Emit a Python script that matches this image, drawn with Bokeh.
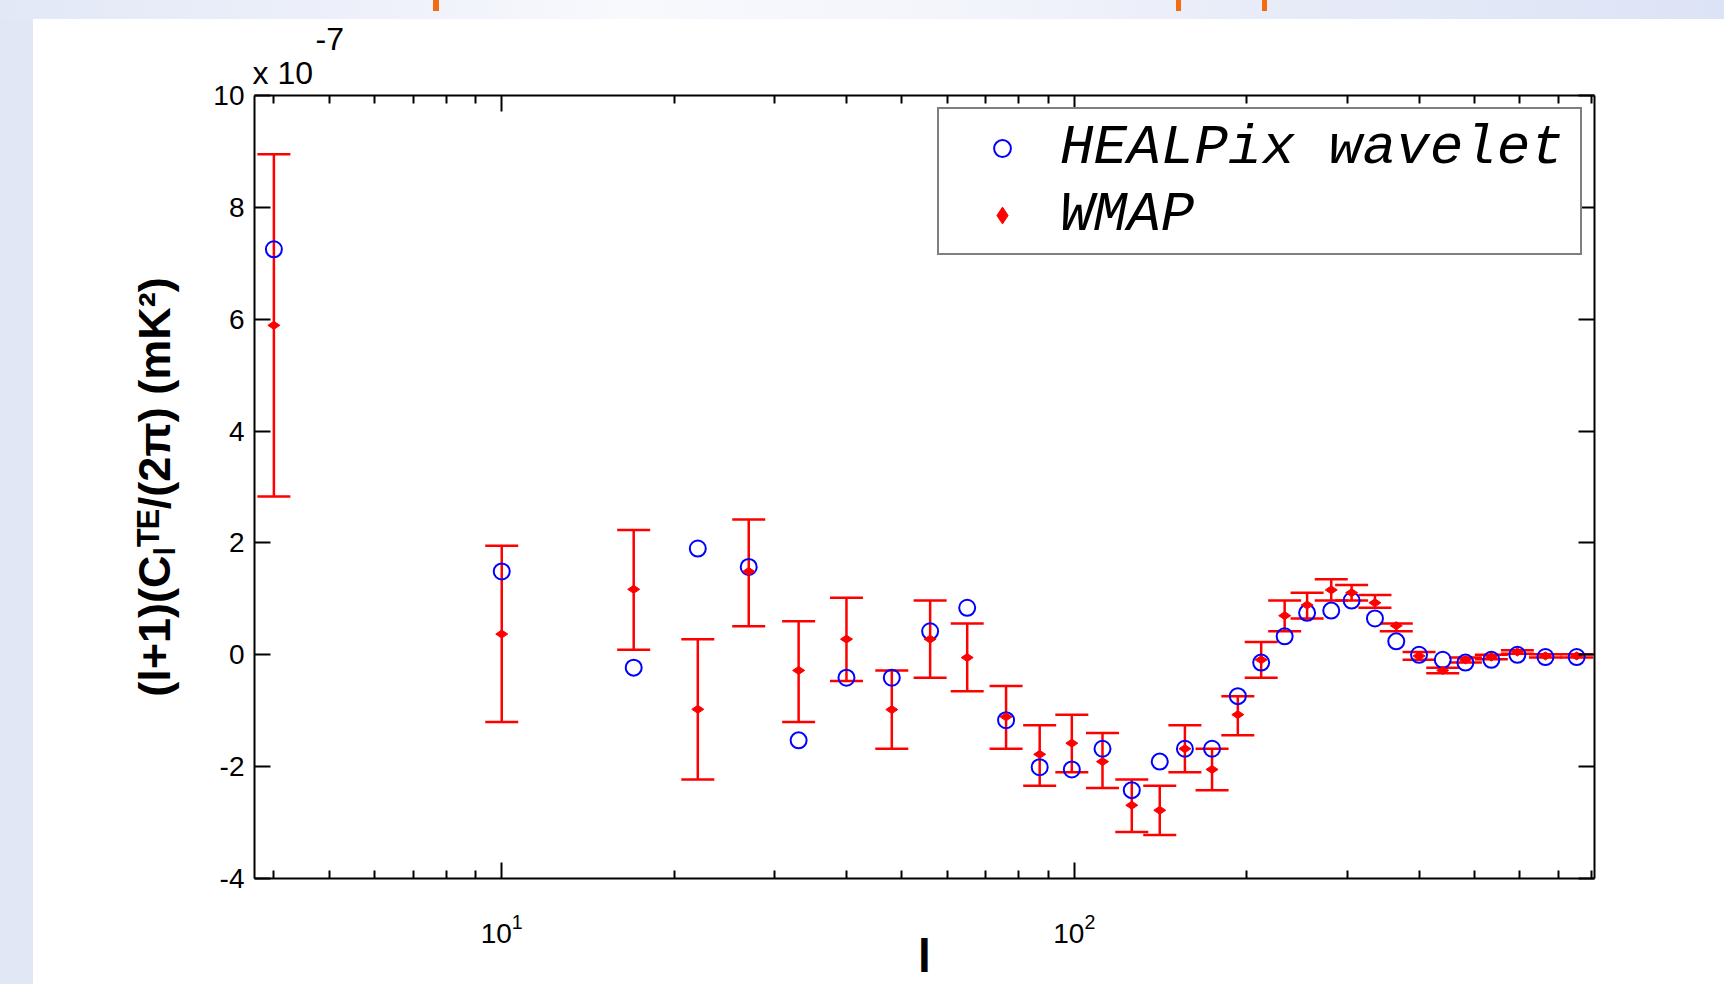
import math
from bokeh.plotting import figure
from bokeh.models import (Range1d, FixedTicker, LinearAxis, LogAxis, Whisker, TeeHead,
                          ColumnDataSource, Legend, LegendItem, Title,
                          CustomJSTickFormatter, LogTickFormatter)
from bokeh.embed import file_html
from bokeh.resources import INLINE

# ---------------- data (values in units of 1e-7 mK^2) ----------------
ell = [4, 10, 17, 22, 27, 33, 40, 48, 56, 65, 76, 87, 99, 112, 126, 141, 156,
       174, 193, 212, 233, 255, 281, 305, 335, 365, 400, 440, 482, 535, 594, 665, 754]
healpix = [7.25, 1.49, -0.23, 1.90, 1.57, -1.53, -0.41, -0.41, 0.42, 0.84, -1.17,
           -2.01, -2.05, -1.68, -2.42, -1.91, -1.68, -1.68, -0.74, -0.14, 0.33, 0.75,
           0.79, 0.97, 0.65, 0.24, 0.00, -0.09, -0.14, -0.09, 0.00, -0.04, -0.04]
wmap = [5.89, 0.37, 1.17, -0.975, 1.49, -0.28, 0.28, -0.98, 0.28, -0.05, -1.11,
        -1.78, -1.58, -1.91, -2.69, -2.78, -1.68, -2.05, -1.07, -0.09, 0.70, 0.89,
        1.16, 1.11, 0.93, 0.52, -0.02, -0.28, -0.09, -0.04, 0.05, -0.02, -0.02]
wmap_hi = [8.95, 1.95, 2.23, 0.28, 2.42, 0.60, 1.02, -0.28, 0.97, 0.56, -0.56,
           -1.26, -1.07, -1.40, -2.23, -2.34, -1.26, -1.68, -0.74, 0.23, 0.97, 1.11,
           1.35, 1.25, 1.07, 0.56, 0.05, -0.23, -0.05, 0.00, 0.08, 0.01, 0.01]
wmap_lo = [2.83, -1.20, 0.09, -2.23, 0.51, -1.20, -0.47, -1.68, -0.41, -0.65, -1.68,
           -2.34, -2.10, -2.38, -3.17, -3.22, -2.10, -2.42, -1.44, -0.41, 0.42, 0.65,
           0.97, 0.97, 0.84, 0.42, -0.09, -0.33, -0.14, -0.08, 0.02, -0.05, -0.05]

y_ticks = [-4, -2, 0, 2, 4, 6, 8, 10]
x_major_ticks = [10, 100]
x_minor_ticks = [4, 5, 6, 7, 8, 9, 20, 30, 40, 50, 60, 70, 80, 90,
                 200, 300, 400, 500, 600, 700, 800]
series_labels = ["HEALPix wavelet", "WMAP"]
y_label = "(l+1)(C\u2097\u1d40\u1d31/(2\u03c0) (mK\u00b2)"
x_label = "l"
multiplier = ["x 10", "-7"]

# ---------------- slide-like background behind the (transparent) canvas ----------------
ORANGE = "#f36b12"
slide_bg = {
    "background-color": "#ffffff",
    "background-image": (
        f"linear-gradient(to right, transparent 433px, {ORANGE} 433px, {ORANGE} 439px, "
        f"transparent 439px, transparent 1176px, {ORANGE} 1176px, {ORANGE} 1181px, "
        f"transparent 1181px, transparent 1262px, {ORANGE} 1262px, {ORANGE} 1267px, "
        "transparent 1267px), "
        "linear-gradient(to right, #e3e8f7 0%, #eef1fa 22%, #f8f9fd 36%, #f3f5fb 55%, "
        "#e7ebf8 75%, #dde3f6 100%), "
        "linear-gradient(#e2e7f6, #e2e7f6)"),
    "background-size": "100% 11px, 100% 19px, 33px 100%",
    "background-repeat": "no-repeat",
    "background-position": "0 0, 0 0, 0 0",
}

# ---------------- figure ----------------
W, H = 1724, 984
p = figure(width=W, height=H, x_axis_type="log",
           x_range=Range1d(3.7, 810), y_range=Range1d(-4, 10),
           output_backend="svg", toolbar_location=None,
           min_border_left=254, min_border_right=W - 1594,
           min_border_top=95, min_border_bottom=H - 878,
           background_fill_color="white", border_fill_color=None,
           styles=slide_bg)
p.title.visible = False
p.xgrid.visible = False
p.ygrid.visible = False
p.outline_line_color = None

yt = FixedTicker(ticks=y_ticks, minor_ticks=[])
xt = FixedTicker(ticks=x_major_ticks, minor_ticks=x_minor_ticks)
blank = CustomJSTickFormatter(code="return ''")

FONT = "Liberation Sans"


def style(ax):
    ax.axis_line_width = 2
    ax.axis_line_color = "black"
    ax.major_tick_in = 16
    ax.major_tick_out = 0
    ax.minor_tick_in = 8
    ax.minor_tick_out = 0
    ax.major_tick_line_width = 2
    ax.minor_tick_line_width = 2
    ax.major_tick_line_color = "black"
    ax.minor_tick_line_color = "black"


yax = p.yaxis[0]
yax.ticker = yt
yax.formatter = CustomJSTickFormatter(code="return tick.toFixed(0)")
yax.major_label_text_font = FONT
yax.major_label_text_font_size = "28px"
yax.major_label_text_color = "black"
yax.major_label_standoff = 10
yax.axis_label = y_label
yax.axis_label_text_font = FONT
yax.axis_label_text_font_style = "bold"
yax.axis_label_text_font_size = "45px"
yax.axis_label_text_color = "black"
yax.axis_label_standoff = 30
style(yax)

xax = p.xaxis[0]
xax.ticker = xt
xax.formatter = LogTickFormatter()
xax.major_label_text_font = FONT
xax.major_label_text_font_size = "28px"
xax.major_label_text_color = "black"
xax.major_label_standoff = 35
xax.axis_label = x_label
xax.axis_label_text_font = FONT
xax.axis_label_text_font_style = "bold"
xax.axis_label_text_font_size = "46px"
xax.axis_label_text_color = "black"
xax.axis_label_standoff = -16
style(xax)

rax = LinearAxis(ticker=yt, formatter=blank, major_label_text_font_size="1px",
                 major_label_standoff=0)
style(rax)
p.add_layout(rax, "right")
tax = LogAxis(ticker=xt, formatter=blank, major_label_text_font_size="1px",
              major_label_standoff=0)
style(tax)
p.add_layout(tax, "above")

# multiplier "x 10^-7" above the top-left corner
p.add_layout(Title(text=multiplier[0], align="left", offset=-2, standoff=9,
                   text_font=FONT, text_font_size="32px", text_font_style="normal",
                   text_color="black"), "above")
p.add_layout(Title(text=multiplier[1], align="left", offset=61, standoff=-3,
                   text_font=FONT, text_font_size="32px", text_font_style="normal",
                   text_color="black"), "above")

# ---------------- data ----------------
src = ColumnDataSource(dict(ell=ell, h=healpix, w=wmap, lo=wmap_lo, hi=wmap_hi))

r_h = p.scatter("ell", "h", source=src, marker="circle", size=16,
                fill_color=None, line_color="#0000ff", line_width=2)
wh = Whisker(base="ell", upper="hi", lower="lo", source=src,
             line_color="#ff0000", line_width=2.5,
             upper_head=TeeHead(size=33, line_color="#ff0000", line_width=2.5),
             lower_head=TeeHead(size=33, line_color="#ff0000", line_width=2.5))
p.add_layout(wh)
r_w = p.scatter("ell", "w", source=src, marker="diamond", size=12, angle=math.pi / 2,
                fill_color="#ff0000", line_color="#ff0000", line_width=1)

legend = Legend(items=[LegendItem(label=series_labels[0], renderers=[r_h]),
                       LegendItem(label=series_labels[1], renderers=[r_w])],
                location="top_right", margin=12, padding=5, spacing=0,
                glyph_width=116, glyph_height=42, label_height=67, label_width=515,
                label_standoff=0, label_text_font="Liberation Mono",
                label_text_font_size="56px", label_text_font_style="italic",
                label_text_color="black",
                border_line_color="black", border_line_width=2,
                background_fill_color="white", background_fill_alpha=1)
p.add_layout(legend)

open("out.html", "w").write(file_html(p, INLINE))
